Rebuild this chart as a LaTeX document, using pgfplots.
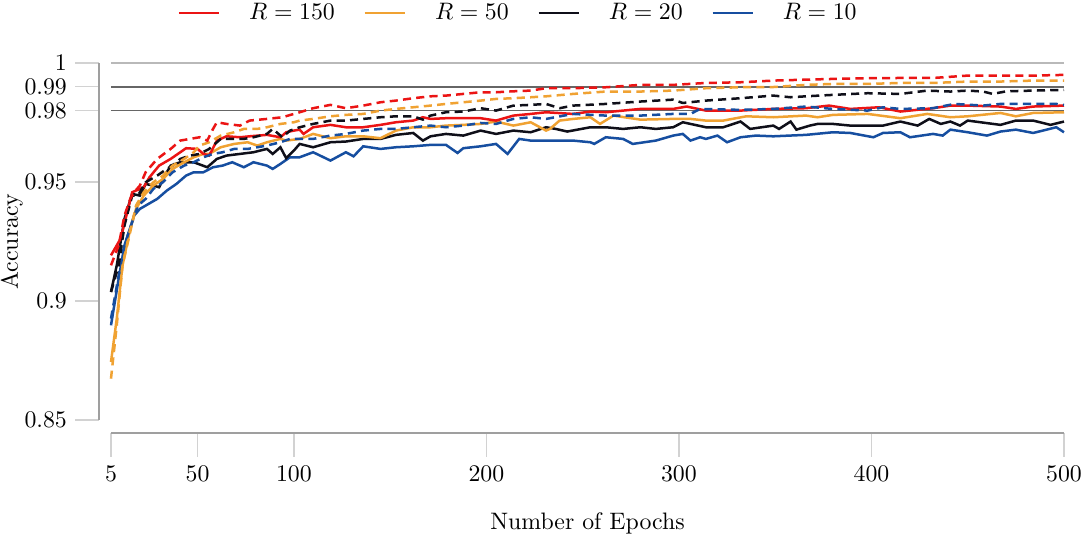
\documentclass[border=0pt]{standalone}
\usepackage{pgfplots}
\pgfplotsset{compat=1.18}
\definecolor{cR}{RGB}{235,20,20}
\definecolor{cO}{RGB}{240,162,50}
\definecolor{cK}{RGB}{15,15,25}
\definecolor{cB}{RGB}{22,78,160}
\begin{document}
\begin{tikzpicture}
\begin{axis}[
  name=ax,
  scale only axis,
  width=400.3pt, height=150pt,
  xmin=5, xmax=500, ymin=0.85, ymax=1,
  axis x line*=bottom, axis y line*=left,
  axis x line shift=5.5pt, axis y line shift=5pt,
  axis line style={draw=gray!75, line width=0.6pt},
  tick align=outside,
  major tick length=10pt,
  xtick={5,50,100,200,300,400,500},
  ytick={0.85,0.9,0.95,0.98,0.99,1},
  yticklabels={0.85,0.9,0.95,0.98,0.99,1},
  xticklabels={5,50,100,200,300,400,500},
  tick style={draw=gray!35, line width=0.6pt},
  xlabel={Number of Epochs},
  ylabel={Accuracy},
  xlabel style={at={(axis description cs:0.5,-0.2885)}, anchor=center},
  ylabel style={at={(axis description cs:-0.104,0.5)}, anchor=center},
  legend style={draw=none, fill=none, at={(axis description cs:0.4287,1.14)}, anchor=center,
    /tikz/every odd column/.append style={column sep=10pt},
    /tikz/every even column/.append style={column sep=10pt}},
  legend columns=4,
  legend image code/.code={\draw[#1] (0pt,0pt) -- (17pt,0pt);},
  every axis plot/.append style={line width=1.05pt},
  clip=false,
]
\draw[gray!55, line width=0.6pt] (axis cs:5,1) -- (axis cs:500,1);
\draw[black!60, line width=0.65pt] (axis cs:5,0.99) -- (axis cs:500,0.99);
\draw[black!60, line width=0.65pt] (axis cs:5,0.98) -- (axis cs:500,0.98);

\addlegendimage{cR, line width=1.05pt}\addlegendentry{$R=150$}
\addlegendimage{cO, line width=1.05pt}\addlegendentry{$R=50$}
\addlegendimage{cK, line width=1.05pt}\addlegendentry{$R=20$}
\addlegendimage{cB, line width=1.05pt}\addlegendentry{$R=10$}

% R=10 solid
\addplot[cB, forget plot] coordinates {(5,0.8898)(9,0.9094)(12,0.9234)(17,0.9359)(20,0.9387)(23,0.9401)(29,0.9429)(34,0.9464)(39,0.9492)(44,0.9527)(48,0.9541)(53,0.9541)(58,0.9562)(63,0.9569)(68,0.9583)(74,0.9562)(79,0.9583)(86,0.9569)(89,0.9555)(93,0.9576)(98,0.9604)(103,0.9604)
(110,0.9625)(119,0.9590)(127,0.9625)(131,0.9608)(136,0.9650)(145,0.9639)(153,0.9646)(162,0.9650)(171,0.9656)(179,0.9656)(185,0.9622)(188,0.9642)(197,0.9650)(205,0.9660)(211,0.9618)(217,0.9681)(223,0.9674)(231,0.9674)
(245,0.9674)(254,0.9667)(256,0.9660)(262,0.9688)(271,0.9681)(276,0.9660)(288,0.9674)(297,0.9695)(302,0.9702)(306,0.9674)(311,0.9688)(314,0.9681)(320,0.9695)(325,0.9667)(332,0.9688)(340,0.9695)(349,0.9692)(366,0.9698)
(380,0.9709)(389,0.9706)(401,0.9688)(406,0.9706)(415,0.9709)(420,0.9688)(432,0.9702)(437,0.9695)(441,0.9720)(450,0.9709)(460,0.9695)(467,0.9712)(475,0.9720)(484,0.9706)(496,0.9730)(500,0.9709)};
% R=20 solid
\addplot[cK, forget plot] coordinates {(5,0.9038)(8,0.9150)(12,0.9345)(16,0.9450)(20,0.9443)(23,0.9492)(27,0.9485)(30,0.9478)(34,0.9541)(36,0.9569)(41,0.9583)(48,0.9583)(55,0.9562)(60,0.9597)(65,0.9611)(72,0.9618)(79,0.9625)(86,0.9639)(89,0.9618)(93,0.9646)(96,0.9600)(100,0.9632)(103,0.9660)
(110,0.9646)(119,0.9667)(127,0.9670)(136,0.9681)(145,0.9681)(153,0.9698)(162,0.9706)(167,0.9674)(171,0.9692)(179,0.9702)(188,0.9695)(197,0.9716)(205,0.9702)(214,0.9716)(223,0.9709)(231,0.9730)
(236,0.9723)(242,0.9712)(254,0.9730)(262,0.9730)(271,0.9723)(280,0.9730)(288,0.9723)(297,0.9730)(302,0.9751)(314,0.9730)(323,0.9730)(332,0.9754)(337,0.9723)(349,0.9737)(352,0.9723)(358,0.9754)(361,0.9720)(368,0.9737)
(372,0.9744)(380,0.9744)(389,0.9737)(406,0.9737)(415,0.9754)(424,0.9737)(430,0.9765)(436,0.9744)(441,0.9754)(446,0.9737)(450,0.9758)(467,0.9740)(475,0.9758)(484,0.9758)(493,0.9740)(500,0.9754)};
% R=50 solid
\addplot[cO, forget plot] coordinates {(5,0.8744)(8,0.8926)(11,0.9150)(15,0.9303)(18,0.9387)(22,0.9443)(27,0.9485)(32,0.9513)(37,0.9555)(43,0.9583)(48,0.9604)(53,0.9618)(56,0.9618)(62,0.9646)(69,0.9660)(76,0.9667)(81,0.9653)(86,0.9667)(93,0.9681)(96,0.9674)(103,0.9681)
(110,0.9702)(119,0.9684)(127,0.9692)(136,0.9692)(145,0.9684)(153,0.9716)(162,0.9730)(171,0.9730)(179,0.9737)(188,0.9740)(197,0.9744)(205,0.9754)(214,0.9737)(223,0.9751)(231,0.9716)
(233,0.9723)(238,0.9758)(245,0.9765)(254,0.9772)(259,0.9744)(266,0.9779)(280,0.9762)(297,0.9765)(306,0.9765)(314,0.9758)(323,0.9758)(335,0.9776)(349,0.9772)(366,0.9779)
(372,0.9772)(380,0.9782)(398,0.9786)(415,0.9768)(429,0.9786)(441,0.9772)(450,0.9776)(467,0.9790)(475,0.9776)(484,0.9790)(500,0.9793)};
% R=150 solid
\addplot[cR, forget plot] coordinates {(5,0.9192)(10,0.9262)(13,0.9359)(16,0.9457)(18,0.9464)(22,0.9478)(25,0.9520)(30,0.9569)(36,0.9597)(41,0.9625)(44,0.9642)(50,0.9639)(53,0.9618)(56,0.9611)(60,0.9674)(65,0.9692)(72,0.9688)(77,0.9692)(86,0.9698)(93,0.9688)(96,0.9709)(100,0.9716)(103,0.9720)
(105,0.9702)(110,0.9730)(119,0.9740)(127,0.9730)(136,0.9730)(145,0.9740)(153,0.9751)(162,0.9758)(167,0.9772)(171,0.9765)(179,0.9768)(188,0.9768)(197,0.9768)(205,0.9758)(214,0.9779)(223,0.9786)(231,0.9793)
(245,0.9786)(254,0.9796)(262,0.9793)(280,0.9807)(297,0.9807)(304,0.9817)(314,0.9800)(332,0.9800)(349,0.9807)(366,0.9810)
(378,0.9821)(389,0.9807)(404,0.9814)(415,0.9796)(432,0.9810)(441,0.9821)(450,0.9821)(467,0.9817)(475,0.9807)(484,0.9817)(500,0.9821)};

% dashed
\addplot[cB, dash pattern=on 3.4pt off 2.2pt, forget plot] coordinates {(5,0.8926)(9,0.9108)(12,0.9234)(16,0.9331)(19,0.9401)(23,0.9429)(27,0.9471)(32,0.9499)(37,0.9541)(43,0.9569)(48,0.9583)(53,0.9604)(58,0.9618)(63,0.9625)(69,0.9639)(76,0.9639)(81,0.9646)(86,0.9653)(93,0.9667)(98,0.9681)(103,0.9681)
(110,0.9681)(119,0.9695)(127,0.9702)(136,0.9716)(145,0.9723)(153,0.9723)(162,0.9730)(171,0.9737)(179,0.9730)(188,0.9737)(197,0.9748)(205,0.9744)(214,0.9765)(223,0.9772)(231,0.9765)
(245,0.9786)(262,0.9779)(280,0.9779)(297,0.9786)(306,0.9786)(311,0.9807)(332,0.9803)(349,0.9807)(366,0.9817)
(380,0.9807)(398,0.9800)(406,0.9814)(415,0.9807)(432,0.9810)(443,0.9828)(458,0.9821)(467,0.9828)(484,0.9828)(496,0.9828)(500,0.9824)};
\addplot[cK, dash pattern=on 3.4pt off 2.2pt, forget plot] coordinates {(5,0.9038)(9,0.9150)(12,0.9317)(16,0.9443)(19,0.9443)(23,0.9499)(29,0.9527)(34,0.9555)(37,0.9569)(41,0.9597)(46,0.9611)(51,0.9618)(56,0.9639)(62,0.9681)(68,0.9681)(74,0.9681)(79,0.9688)(86,0.9702)(89,0.9723)(94,0.9688)(98,0.9716)(103,0.9730)
(110,0.9744)(119,0.9758)(127,0.9758)(136,0.9765)(145,0.9772)(153,0.9776)(162,0.9776)(167,0.9762)(171,0.9779)(179,0.9793)(188,0.9796)(197,0.9810)(205,0.9800)(214,0.9821)(223,0.9824)(231,0.9828)
(238,0.9810)(245,0.9821)(262,0.9828)(280,0.9838)(297,0.9846)(302,0.9832)(314,0.9842)(332,0.9852)(349,0.9863)(358,0.9856)(366,0.9860)
(380,0.9866)(398,0.9873)(415,0.9870)(429,0.9884)(441,0.9880)(450,0.9884)(458,0.9880)(463,0.9870)(470,0.9881)(484,0.9884)(500,0.9887)};
\addplot[cO, dash pattern=on 3.4pt off 2.2pt, forget plot] coordinates {(5,0.8674)(8,0.8898)(11,0.9150)(15,0.9290)(18,0.9401)(22,0.9457)(27,0.9499)(32,0.9527)(37,0.9569)(43,0.9597)(48,0.9625)(51,0.9653)(56,0.9667)(62,0.9695)(69,0.9709)(74,0.9723)(81,0.9723)(86,0.9730)(93,0.9744)(100,0.9751)(103,0.9758)
(110,0.9765)(119,0.9776)(127,0.9782)(136,0.9786)(145,0.9800)(153,0.9807)(162,0.9814)(171,0.9821)(179,0.9828)(188,0.9835)(197,0.9842)(205,0.9849)(214,0.9852)(223,0.9856)(231,0.9860)
(245,0.9870)(262,0.9880)(280,0.9880)(297,0.9884)(314,0.9894)(332,0.9898)(349,0.9899)(366,0.9908)
(380,0.9912)(398,0.9912)(415,0.9916)(432,0.9916)(450,0.9922)(467,0.9922)(484,0.9926)(500,0.9926)};
\addplot[cR, dash pattern=on 3.4pt off 2.2pt, forget plot] coordinates {(5,0.9150)(9,0.9234)(12,0.9359)(15,0.9429)(17,0.9457)(20,0.9485)(23,0.9541)(29,0.9597)(36,0.9639)(41,0.9674)(46,0.9681)(51,0.9688)(55,0.9674)(58,0.9723)(60,0.9751)(65,0.9744)(72,0.9737)(77,0.9758)(86,0.9765)(94,0.9772)(103,0.9793)
(110,0.9810)(119,0.9824)(127,0.9810)(136,0.9821)(145,0.9835)(153,0.9842)(162,0.9852)(171,0.9860)(179,0.9863)(188,0.9870)(197,0.9877)(205,0.9877)(214,0.9881)(223,0.9884)(231,0.9894)
(245,0.9894)(262,0.9898)(280,0.9908)(297,0.9908)(314,0.9916)(332,0.9919)(349,0.9926)(366,0.9930)
(380,0.9933)(398,0.9936)(415,0.9937)(432,0.9937)(450,0.9947)(467,0.9947)(484,0.9947)(500,0.9950)};
\end{axis}
\pgfresetboundingbox
\path ([xshift=-46.62pt,yshift=-52.5pt]ax.south west) rectangle ([xshift=8.4pt,yshift=26.46pt]ax.north east);
\end{tikzpicture}
\end{document}
